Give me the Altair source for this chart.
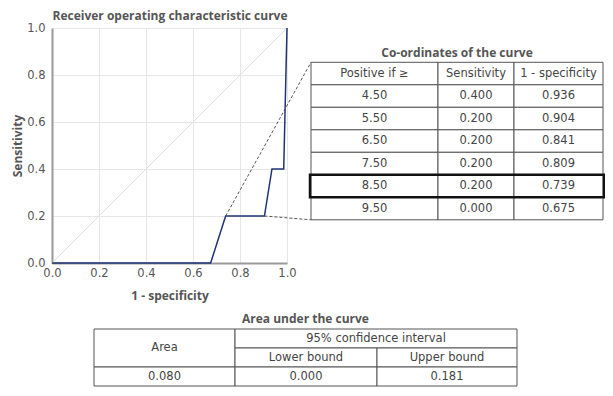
import altair as alt
import pandas as pd

# ---- data ----
roc_fpr = [0.0, 0.675, 0.739, 0.809, 0.841, 0.904, 0.936, 0.986, 1.0]
roc_tpr = [0.0, 0.0, 0.2, 0.2, 0.2, 0.2, 0.4, 0.4, 1.0]

thresholds = ["4.50", "5.50", "6.50", "7.50", "8.50", "9.50"]
sensitivity = ["0.400", "0.200", "0.200", "0.200", "0.200", "0.000"]
one_minus_spec = ["0.936", "0.904", "0.841", "0.809", "0.739", "0.675"]
coord_headers = ["Positive if \u2265", "Sensitivity", "1 - specificity"]

auc_labels = ["Area", "95% confidence interval", "Lower bound", "Upper bound"]
auc_values = ["0.080", "0.000", "0.181"]

FONT = "DejaVu Sans"
BFONT = "Open Sans"
TXT = "#444444"
GRID_LINE = "#555555"

# ---- layout (page pixels) ----
OX, OY = 52, 28          # plot origin on page
W, H = 235, 235
SVG_W, SVG_H = 597, 380

def px(x):
    return x - OX

def py(y):
    return y - OY

# main plot
roc = pd.DataFrame({"fpr": roc_fpr, "tpr": roc_tpr, "i": range(len(roc_fpr))})
diag = pd.DataFrame({"fpr": [0, 1], "tpr": [0, 1]})

xs = alt.Scale(domain=[0, 1], nice=False)
ys = alt.Scale(domain=[0, 1], nice=False)

xaxis = alt.Axis(values=[0, 0.2, 0.4, 0.6, 0.8, 1.0], format=".1f", title="1 - specificity",
                 ticks=False, labelPadding=4, titlePadding=12, labelFlush=False)
yaxis = alt.Axis(values=[0, 0.2, 0.4, 0.6, 0.8, 1.0], format=".1f", title="Sensitivity",
                 ticks=False, labelPadding=7, titlePadding=2)

diag_layer = alt.Chart(diag).mark_line(color="#dedede", strokeWidth=1).encode(
    x=alt.X("fpr:Q", scale=xs, axis=xaxis),
    y=alt.Y("tpr:Q", scale=ys, axis=yaxis),
)
roc_layer = alt.Chart(roc).mark_line(color="#1f3572", strokeWidth=1.5).encode(
    x=alt.X("fpr:Q", scale=xs), y=alt.Y("tpr:Q", scale=ys), order="i:Q"
)

# leader lines: from table points to table corners
T_X = [311, 438, 514, 603]
T_TOP = 62.3
T_ROW = 22.5
T_Y = [T_TOP + T_ROW * k for k in range(8)]

lead_top = pd.DataFrame({"fpr": [float(one_minus_spec[4])], "tpr": [float(sensitivity[4])]})
lead_bot = pd.DataFrame({"fpr": [float(one_minus_spec[1])], "tpr": [float(sensitivity[1])]})
lead1 = alt.Chart(lead_top).mark_rule(color="#555555", strokeDash=[3, 2], strokeWidth=1).encode(
    x=alt.X("fpr:Q", scale=xs), y=alt.Y("tpr:Q", scale=ys),
    x2=alt.value(px(T_X[0])), y2=alt.value(py(T_Y[0])))
lead2 = alt.Chart(lead_bot).mark_rule(color="#555555", strokeDash=[3, 2], strokeWidth=1).encode(
    x=alt.X("fpr:Q", scale=xs), y=alt.Y("tpr:Q", scale=ys),
    x2=alt.value(px(T_X[0])), y2=alt.value(py(T_Y[7])))

main = alt.layer(diag_layer, roc_layer, lead1, lead2)

# ---- tables built as pixel cells ----
cells = []
texts = []
bold_texts = []

# coordinates table
rows = [coord_headers] + [[t, s, o] for t, s, o in zip(thresholds, sensitivity, one_minus_spec)]
for r, row in enumerate(rows):
    for c, val in enumerate(row):
        cells.append({"x": px(T_X[c]), "x2": px(T_X[c + 1]), "y": py(T_Y[r]), "y2": py(T_Y[r + 1])})
        texts.append({"x": px((T_X[c] + T_X[c + 1]) / 2), "y": py((T_Y[r] + T_Y[r + 1]) / 2), "t": val})
bold_texts.append({"x": px((T_X[0] + T_X[3]) / 2), "y": py(53), "t": "Co-ordinates of the curve"})

# AUC table
A_X = [94, 235, 377, 517]
A_Y = [329, 348, 367, 386]
cells += [
    {"x": px(A_X[0]), "x2": px(A_X[1]), "y": py(A_Y[0]), "y2": py(A_Y[2])},
    {"x": px(A_X[1]), "x2": px(A_X[3]), "y": py(A_Y[0]), "y2": py(A_Y[1])},
    {"x": px(A_X[1]), "x2": px(A_X[2]), "y": py(A_Y[1]), "y2": py(A_Y[2])},
    {"x": px(A_X[2]), "x2": px(A_X[3]), "y": py(A_Y[1]), "y2": py(A_Y[2])},
]
texts += [
    {"x": px((A_X[0] + A_X[1]) / 2), "y": py((A_Y[0] + A_Y[2]) / 2), "t": auc_labels[0]},
    {"x": px((A_X[1] + A_X[3]) / 2), "y": py((A_Y[0] + A_Y[1]) / 2), "t": auc_labels[1]},
    {"x": px((A_X[1] + A_X[2]) / 2), "y": py((A_Y[1] + A_Y[2]) / 2), "t": auc_labels[2]},
    {"x": px((A_X[2] + A_X[3]) / 2), "y": py((A_Y[1] + A_Y[2]) / 2), "t": auc_labels[3]},
]
for c, v in enumerate(auc_values):
    cells.append({"x": px(A_X[c]), "x2": px(A_X[c + 1]), "y": py(A_Y[2]), "y2": py(A_Y[3])})
    texts.append({"x": px((A_X[c] + A_X[c + 1]) / 2), "y": py((A_Y[2] + A_Y[3]) / 2), "t": v})
bold_texts.append({"x": px((A_X[0] + A_X[3]) / 2), "y": py(319), "t": "Area under the curve"})
bold_texts.append({"x": px(170), "y": py(15.5), "t": "Receiver operating characteristic curve"})

cells_df = pd.DataFrame(cells)
texts_df = pd.DataFrame(texts)
bold_df = pd.DataFrame(bold_texts)
hl_df = pd.DataFrame([{"x": px(T_X[0] - 1), "x2": px(T_X[3] + 1), "y": py(T_Y[5]), "y2": py(T_Y[6])}])

pxs = dict(scale=None, axis=None)
cell_layer = alt.Chart(cells_df).mark_rect(fill="white", stroke=GRID_LINE, strokeWidth=1).encode(
    x=alt.X("x:Q", **pxs), x2="x2:Q", y=alt.Y("y:Q", **pxs), y2="y2:Q")
hl_layer = alt.Chart(hl_df).mark_rect(filled=False, stroke="#111111", strokeWidth=2.5).encode(
    x=alt.X("x:Q", **pxs), x2="x2:Q", y=alt.Y("y:Q", **pxs), y2="y2:Q")
text_layer = alt.Chart(texts_df).mark_text(font=FONT, fontSize=11.5, color=TXT, baseline="middle").encode(
    x=alt.X("x:Q", **pxs), y=alt.Y("y:Q", **pxs), text="t:N")
bold_layer = alt.Chart(bold_df).mark_text(font=BFONT, fontSize=12, fontWeight="bold", color="#555555",
                                          baseline="middle").encode(
    x=alt.X("x:Q", **pxs), y=alt.Y("y:Q", **pxs), text="t:N")

tables = alt.layer(cell_layer, hl_layer, text_layer, bold_layer)

chart = alt.layer(main, tables).resolve_scale(x="independent", y="independent").properties(
    width=W, height=H,
    autosize=alt.AutoSizeParams(type="none"),
    padding={"left": OX - 8, "top": OY - 8, "right": SVG_W - (OX - 8) - W, "bottom": SVG_H - (OY - 8) - H},
).configure_view(stroke=None).configure_axis(
    labelFont=FONT, labelFontSize=11.5, labelColor="#555555",
    titleFont=BFONT, titleFontSize=12, titleFontWeight="bold", titleColor="#555555",
    gridColor="#e6e6e6", gridWidth=1, domainColor="#999999", domainWidth=2,
)

chart.save("out.html", embed_options={"renderer": "svg", "actions": False})
